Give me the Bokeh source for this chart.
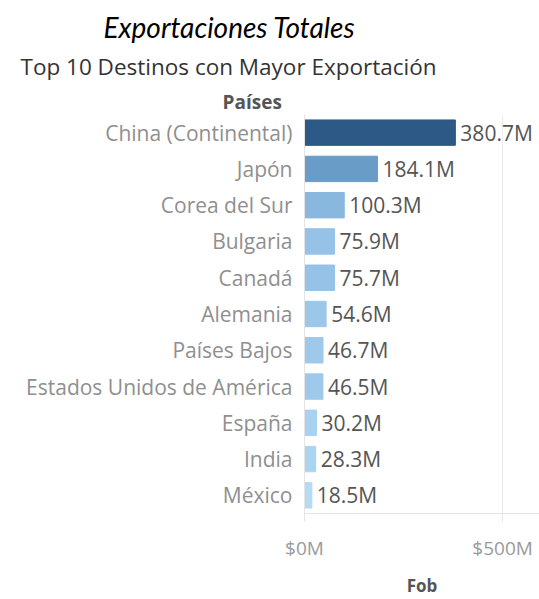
from bokeh.plotting import figure
from bokeh.models import ColumnDataSource, FixedTicker, Title, CustomJSTickFormatter
from bokeh.embed import file_html
from bokeh.resources import INLINE
from bokeh.core.properties import value

paises = ["China (Continental)", "Japón", "Corea del Sur", "Bulgaria", "Canadá",
          "Alemania", "Países Bajos", "Estados Unidos de América", "España", "India", "México"]
fob_millones = [380.7, 184.1, 100.3, 75.9, 75.7, 54.6, 46.7, 46.5, 30.2, 28.3, 18.5]
colores = ["#2c5985", "#6a9cc8", "#89b8de", "#95c2e6", "#95c2e6", "#9bc7e9",
           "#9ec9ea", "#9ec9ea", "#a9d2f0", "#abd4f1", "#b4daf4"]
ticks_millones = [0, 500]

FONT = "Open Sans"

src = ColumnDataSource(dict(
    pais=paises,
    fob=fob_millones,
    color=colores,
    etiqueta=[f"{v:.1f}M" for v in fob_millones],
))

p = figure(width=539, height=599, y_range=list(reversed(paises)),
           x_range=(0, 593), output_backend="svg", toolbar_location=None,
           min_border_left=304, min_border_right=0, min_border_top=114,
           min_border_bottom=0)
p.title = None
p.outline_line_color = None

p.hbar(y="pais", right="fob", left=0, height=0.7, color="color", source=src)
p.text(x="fob", y="pais", text="etiqueta", source=src, x_offset=5,
       text_baseline="middle", text_align="left", text_font=value(FONT),
       text_font_size="21px", text_color="#555555")

# y axis
p.yaxis.axis_line_color = "#e4e4e4"
p.yaxis.major_tick_line_color = None
p.yaxis.minor_tick_line_color = None
p.yaxis.major_label_text_font = FONT
p.yaxis.major_label_text_font_size = "21px"
p.yaxis.major_label_text_color = "#8f8f8f"
p.yaxis.major_label_standoff = 6
p.ygrid.grid_line_color = None

# x axis
p.xaxis.ticker = FixedTicker(ticks=ticks_millones)
p.xaxis.formatter = CustomJSTickFormatter(code="return '$' + tick + 'M';")
p.xaxis.axis_line_color = "#e4e4e4"
p.xaxis.major_tick_line_color = "#e4e4e4"
p.xaxis.major_tick_in = 0
p.xaxis.major_tick_out = 8
p.xaxis.minor_tick_line_color = None
p.xaxis.major_label_text_font = FONT
p.xaxis.major_label_text_font_size = "19px"
p.xaxis.major_label_text_color = "#9a9a9a"
p.xaxis.major_label_standoff = 13
p.xaxis.axis_label = "Fob"
p.xaxis.axis_label_text_font = FONT
p.xaxis.axis_label_text_font_size = "17px"
p.xaxis.axis_label_text_font_style = "bold"
p.xaxis.axis_label_text_color = "#555555"
p.xaxis.axis_label_standoff = 10
p.xgrid.grid_line_color = "#ececec"
p.xgrid.ticker = FixedTicker(ticks=ticks_millones[1:])

p.add_layout(Title(text="Países", text_font=FONT, text_font_size="19px",
                   text_font_style="bold", text_color="#555555", align="left",
                   offset=-82, standoff=0), "above")
p.add_layout(Title(text="Top 10  Destinos con Mayor Exportación", text_font=FONT,
                   text_font_size="22.5px", text_font_style="normal",
                   text_color="#333333", align="left", offset=-284, standoff=10), "above")
p.add_layout(Title(text="Exportaciones Totales", text_font="Lato",
                   text_font_size="28px", text_font_style="italic",
                   text_color="#000000", align="left", offset=-201, standoff=0), "above")

open("out.html", "w").write(file_html(p, INLINE))
